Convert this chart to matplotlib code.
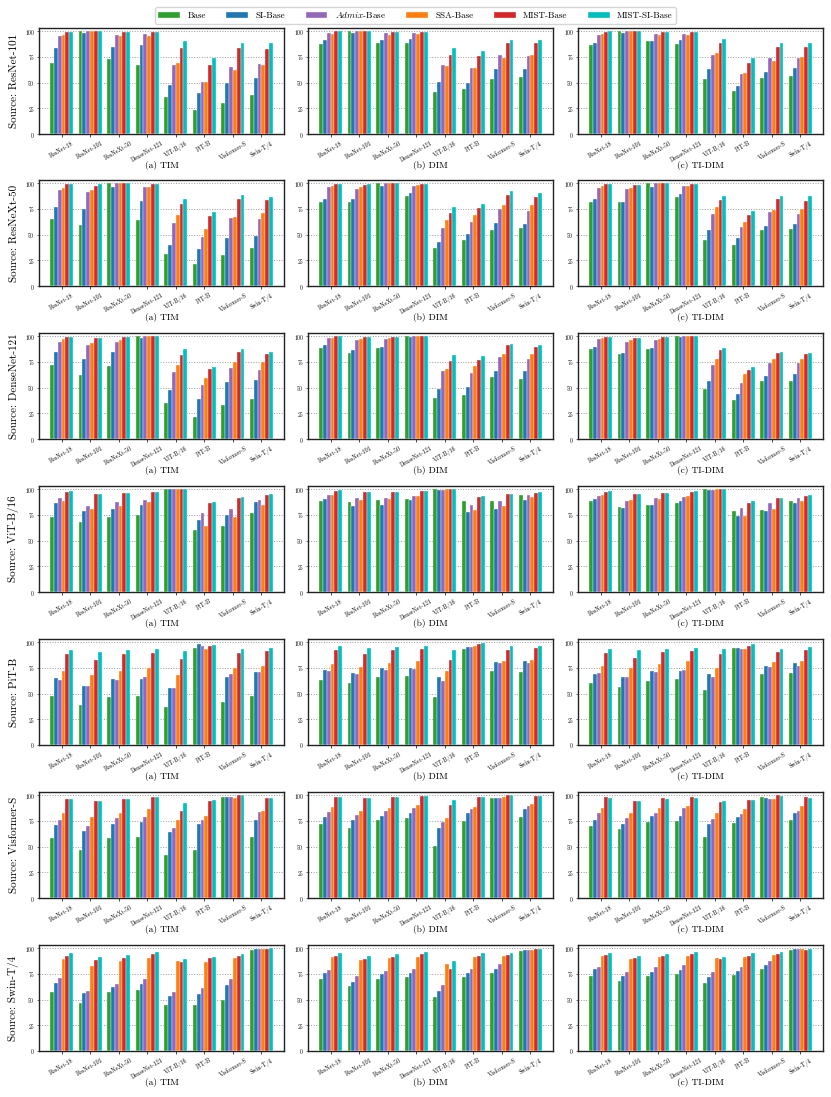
import numpy as np
import matplotlib
matplotlib.use("Agg")
import matplotlib.pyplot as plt

plt.rcParams['font.family'] = 'cmr10'
plt.rcParams['mathtext.fontset'] = 'cm'
plt.rcParams['axes.formatter.use_mathtext'] = True

#####################       DATA         ##########################
targets = ["ResNet-18", "ResNet-101", "ResNeXt-50", "DenseNet-121",
           "ViT-B/16", "PiT-B", "Visformer-S", "Swin-T/4"]
methods = ["Base", "SI-Base", r"$\mathit{Admix}$-Base", "SSA-Base", "MIST-Base", "MIST-SI-Base"]
colors = ["#2ca02c", "#1f77b4", "#9467bd", "#ff7f0e", "#d62728", "#00bfbf"]
sources = ["ResNet-101", "ResNeXt-50", "DenseNet-121", "ViT-B/16", "PiT-B", "Visformer-S", "Swin-T/4"]
attacks = ["(a) TIM", "(b) DIM", "(c) TI-DIM"]

# one row per target model, columns in the order of `methods`
resnet101_tim = [[69, 84, 95, 96, 99, 99], [100, 98, 100, 100, 100, 100], [73, 85, 96, 95, 99, 99],
                 [67, 86, 97, 95, 99, 99], [36, 48, 67, 69, 84, 90], [23, 40, 51, 51, 67, 74],
                 [30, 50, 65, 62, 84, 88], [38, 54, 68, 67, 83, 88]]
resnet101_dim = [[87, 91, 98, 97, 100, 100], [100, 98, 100, 100, 100, 100], [88, 91, 98, 96, 99, 99],
                 [88, 92, 98, 97, 99, 99], [41, 51, 67, 66, 77, 84], [44, 50, 64, 64, 76, 81],
                 [53, 63, 77, 74, 88, 91], [55, 63, 76, 77, 88, 91]]
resnet101_tidim = [[86, 88, 96, 97, 99, 100], [100, 98, 100, 100, 100, 100], [90, 90, 97, 96, 99, 99],
                   [87, 91, 97, 96, 99, 99], [53, 63, 77, 79, 88, 92], [42, 47, 58, 59, 69, 74],
                   [54, 60, 74, 71, 85, 88], [56, 64, 74, 75, 85, 88]]

resnext50_tim = [[65, 77, 93, 95, 99, 99], [59, 75, 91, 93, 97, 99], [100, 96, 100, 100, 100, 100],
                 [64, 83, 96, 96, 99, 99], [31, 40, 61, 69, 80, 85], [21, 36, 48, 55, 68, 72],
                 [30, 47, 66, 67, 85, 88], [37, 49, 65, 71, 84, 86]]
resnext50_dim = [[82, 85, 96, 97, 99, 99], [82, 85, 94, 96, 98, 99], [100, 97, 100, 100, 100, 100],
                 [87, 90, 97, 98, 99, 99], [37, 43, 56, 64, 71, 77], [45, 51, 62, 69, 76, 80],
                 [54, 61, 75, 79, 88, 92], [56, 60, 73, 79, 86, 90]]
resnext50_tidim = [[82, 85, 95, 97, 99, 99], [82, 82, 94, 95, 98, 98], [100, 96, 100, 100, 100, 100],
                   [86, 89, 97, 97, 99, 99], [45, 54, 70, 77, 84, 87], [40, 47, 57, 62, 69, 73],
                   [54, 58, 72, 74, 85, 87], [55, 60, 70, 75, 83, 87]]

densenet121_tim = [[72, 85, 94, 97, 99, 99], [62, 78, 91, 93, 98, 98], [71, 85, 94, 96, 99, 99],
                   [100, 98, 100, 100, 100, 100], [35, 48, 65, 72, 82, 87], [21, 39, 52, 59, 68, 70],
                   [33, 55, 69, 75, 85, 87], [39, 57, 67, 75, 83, 85]]
densenet121_dim = [[88, 91, 98, 98, 100, 100], [84, 86, 96, 97, 99, 99], [88, 89, 97, 98, 99, 99],
                   [100, 99, 100, 100, 100, 100], [40, 49, 66, 68, 76, 82], [43, 51, 64, 71, 77, 81],
                   [60, 66, 80, 83, 91, 92], [58, 66, 78, 83, 89, 91]]
densenet121_tidim = [[87, 89, 97, 98, 99, 99], [83, 84, 94, 96, 98, 98], [87, 88, 96, 97, 99, 99],
                     [100, 99, 100, 100, 100, 100], [49, 56, 72, 78, 86, 88], [38, 44, 54, 63, 67, 70],
                     [56, 61, 74, 78, 84, 85], [56, 63, 74, 78, 83, 84]]

vitb16_tim = [[73, 86, 91, 88, 97, 98], [68, 79, 84, 81, 95, 95], [73, 81, 87, 84, 96, 96],
              [75, 85, 89, 87, 97, 97], [100, 100, 100, 100, 100, 100], [60, 70, 77, 64, 86, 87],
              [64, 75, 81, 73, 91, 92], [77, 87, 89, 85, 94, 95]]
vitb16_dim = [[88, 90, 94, 94, 98, 99], [87, 84, 91, 89, 97, 97], [89, 85, 91, 90, 97, 97],
              [90, 89, 93, 93, 98, 98], [100, 99, 99, 100, 100, 100], [88, 78, 85, 80, 92, 93],
              [88, 81, 88, 84, 95, 95], [94, 89, 94, 92, 96, 97]]
vitb16_tidim = [[88, 90, 93, 94, 97, 98], [83, 82, 88, 89, 95, 95], [85, 85, 91, 90, 96, 96],
                [86, 88, 92, 93, 97, 98], [100, 99, 99, 100, 100, 100], [79, 74, 82, 74, 86, 88],
                [80, 79, 86, 81, 91, 91], [88, 86, 91, 88, 93, 94]]

pitb_tim = [[48, 65, 63, 72, 88, 92], [39, 57, 57, 68, 83, 90], [47, 64, 63, 72, 88, 92],
            [48, 64, 66, 75, 89, 93], [37, 55, 55, 68, 84, 91], [94, 98, 96, 93, 96, 97],
            [42, 66, 69, 75, 89, 93], [48, 71, 71, 77, 91, 94]]
pitb_dim = [[63, 73, 72, 79, 92, 96], [60, 70, 69, 76, 88, 94], [66, 75, 73, 80, 92, 95],
            [67, 75, 74, 82, 93, 96], [47, 66, 62, 72, 83, 92], [93, 95, 95, 96, 98, 99],
            [72, 81, 80, 82, 92, 96], [71, 82, 80, 83, 94, 96]]
pitb_tidim = [[60, 69, 70, 77, 89, 93], [56, 66, 66, 75, 85, 92], [62, 72, 71, 79, 90, 93],
              [64, 72, 73, 82, 91, 94], [53, 69, 66, 75, 88, 93], [94, 94, 93, 93, 96, 98],
              [69, 77, 76, 81, 90, 93], [70, 80, 77, 82, 92, 95]]

visformer_tim = [[58, 71, 76, 83, 96, 96], [47, 65, 70, 79, 94, 94], [58, 72, 78, 83, 96, 96],
                 [59, 74, 79, 86, 98, 98], [42, 64, 68, 76, 85, 92], [47, 72, 76, 80, 94, 95],
                 [98, 98, 98, 97, 100, 100], [59, 76, 84, 85, 97, 97]]
visformer_dim = [[72, 79, 84, 88, 98, 98], [68, 76, 81, 85, 97, 97], [76, 80, 85, 87, 98, 98],
                 [78, 83, 87, 90, 99, 99], [51, 68, 74, 78, 90, 95], [75, 83, 86, 88, 98, 98],
                 [97, 97, 97, 98, 100, 100], [79, 86, 89, 91, 99, 99]]
visformer_tidim = [[70, 76, 83, 87, 98, 97], [67, 72, 78, 83, 94, 94], [74, 80, 83, 87, 97, 96],
                   [75, 80, 87, 89, 98, 97], [59, 72, 77, 83, 93, 94], [73, 79, 82, 86, 95, 95],
                   [98, 97, 96, 96, 100, 99], [76, 83, 85, 89, 98, 97]]

swin_tim = [[57, 66, 71, 89, 92, 95], [47, 56, 58, 83, 88, 91], [57, 62, 65, 87, 90, 93],
            [59, 65, 70, 90, 94, 96], [45, 53, 57, 87, 86, 89], [45, 55, 61, 86, 90, 91],
            [50, 64, 70, 90, 92, 94], [98, 99, 99, 99, 99, 100]]
swin_dim = [[70, 76, 79, 91, 92, 95], [63, 67, 73, 88, 89, 92], [70, 75, 78, 90, 91, 94],
            [72, 76, 80, 91, 94, 96], [52, 58, 64, 85, 80, 87], [72, 76, 80, 91, 92, 95],
            [76, 80, 85, 92, 93, 95], [97, 98, 98, 98, 99, 99]]
swin_tidim = [[73, 80, 82, 92, 93, 95], [68, 73, 77, 89, 90, 92], [73, 77, 82, 91, 92, 94],
              [75, 79, 84, 92, 94, 96], [66, 72, 77, 90, 89, 91], [74, 78, 82, 91, 92, 95],
              [80, 84, 87, 93, 94, 96], [98, 99, 99, 99, 98, 99]]

panels = [[resnet101_tim, resnet101_dim, resnet101_tidim],
          [resnext50_tim, resnext50_dim, resnext50_tidim],
          [densenet121_tim, densenet121_dim, densenet121_tidim],
          [vitb16_tim, vitb16_dim, vitb16_tidim],
          [pitb_tim, pitb_dim, pitb_tidim],
          [visformer_tim, visformer_dim, visformer_tidim],
          [swin_tim, swin_dim, swin_tidim]]

#####################         PLOT          #############################
W, H = 831, 1097
fig = plt.figure(figsize=(W / 100, H / 100), dpi=100)

col_left = [39, 308, 578]
ax_w = 245
row_top = [28, 180, 333, 486, 639, 792, 945]
ax_h = 106

x = np.arange(len(targets))
bw = 0.8 / len(methods)
handles = None
for r, src in enumerate(sources):
    for c, att in enumerate(attacks):
        ax = fig.add_axes([col_left[c] / W, 1 - (row_top[r] + ax_h) / H, ax_w / W, ax_h / H])
        vals = np.array(panels[r][c])
        bars = []
        for k, m in enumerate(methods):
            b = ax.bar(x + (k - 2.5) * bw, vals[:, k], bw, color=colors[k], label=m,
                       edgecolor="white", linewidth=0.25, zorder=3)
            bars.append(b)
        handles = bars
        ax.set_ylim(0, 103)
        ax.set_yticks([0, 25, 50, 75, 100])
        ax.yaxis.grid(True, linestyle=":", color="#999999", linewidth=0.7, zorder=0)
        ax.set_xticks(x)
        ax.set_xticklabels(targets, rotation=30, ha="center", fontsize=4.3)
        ax.tick_params(axis="y", labelsize=4.0, length=1.5, width=0.4, pad=1.5)
        ax.tick_params(axis="x", length=2.5, width=0.5, pad=2.0)
        for s in ax.spines.values():
            s.set_linewidth(1.0)
            s.set_color("#222222")
        ax.text(0.5, -27 / ax_h, att, transform=ax.transAxes, ha="center", va="top", fontsize=6.8)
        if c == 0:
            ax.set_ylabel("Source: " + src, fontsize=8, labelpad=4)

fig.legend(handles, methods, loc="upper center", bbox_to_anchor=(0.5, 0.998), ncol=6,
           fontsize=6.5, frameon=True, handlelength=2.4, columnspacing=2.3,
           borderpad=0.4, fancybox=True, edgecolor="#cccccc")

fig.savefig("out.png", dpi=100)
